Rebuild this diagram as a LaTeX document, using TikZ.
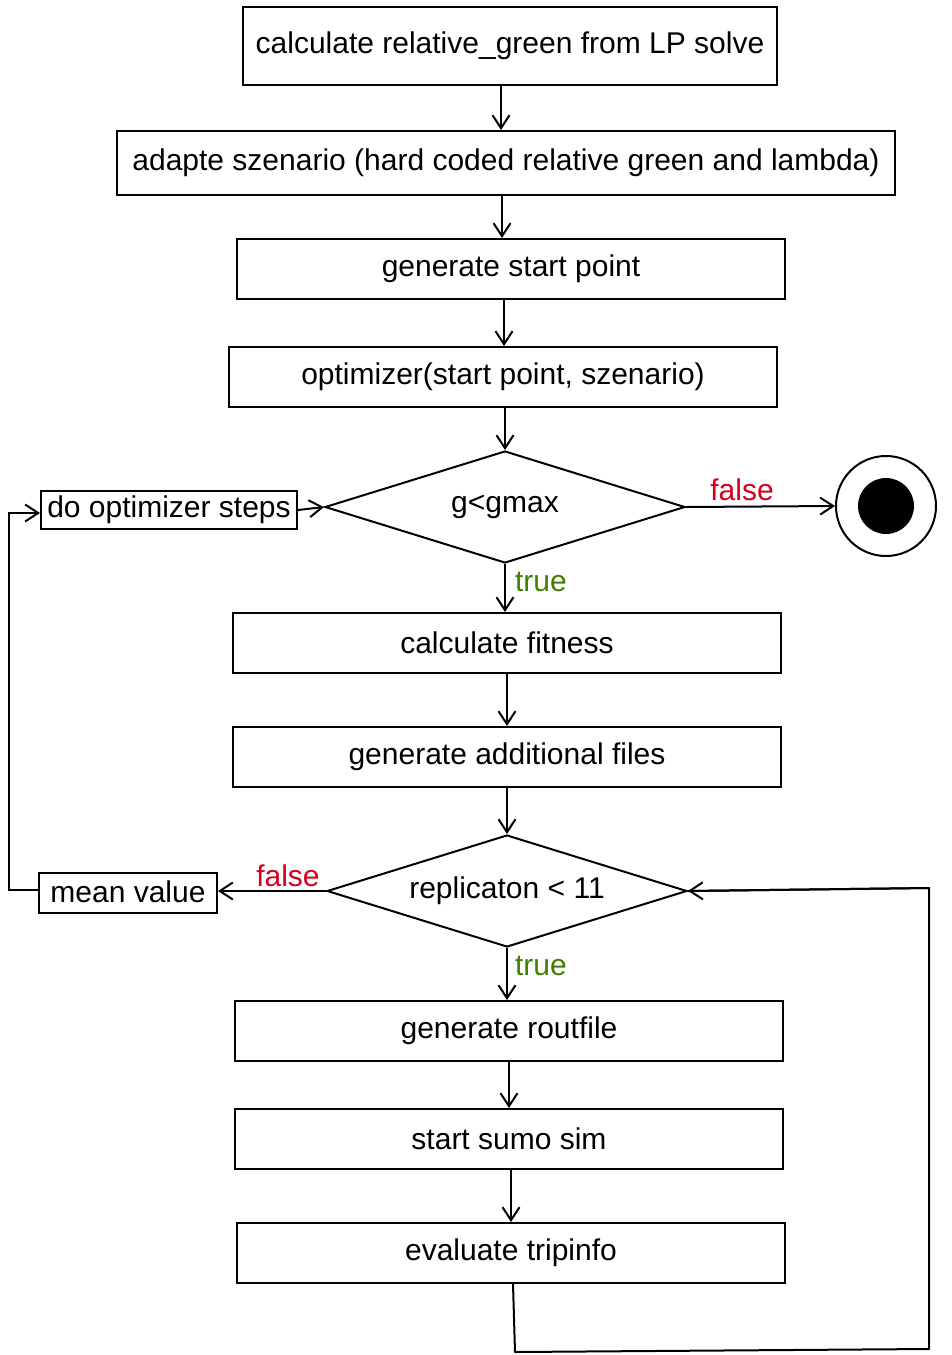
\documentclass[tikz,border=0pt]{standalone}
\usepackage{fontspec}
\setmainfont{Liberation Sans}
\usetikzlibrary{shapes.geometric,arrows.meta}
\definecolor{fred}{RGB}{212,0,28}
\definecolor{tgreen}{RGB}{64,128,0}
\begin{document}
\begin{tikzpicture}[x=1pt,y=1pt,
  every node/.style={font=\fontsize{30}{36}\selectfont},
  box/.style={draw,line width=2pt,rectangle,inner sep=0pt,minimum width=548pt,minimum height=60pt},
  dia/.style={draw,line width=2pt,diamond,aspect=3.2,inner sep=0pt,minimum width=360pt,minimum height=112pt},
  arr/.style={line width=2pt,-{Straight Barb[length=13pt,width=17pt,line width=2pt]}},
  lbl/.style={inner sep=0pt}]
\useasboundingbox (0,0) rectangle (951,-1355);
\node[box,minimum width=534pt,minimum height=78pt] (b1) at (510,-46) {calculate relative\_green from LP solve};
\node[box,minimum width=778pt,minimum height=64pt] (b2) at (506,-163) {adapte szenario (hard coded relative green and lambda)};
\node[box] (b3) at (511,-269) {generate start point};
\node[box] (b4) at (503,-377) {optimizer(start point, szenario)};
\node[dia] (d1) at (505,-507) {g<gmax};
\node[box,minimum width=256pt,minimum height=38pt] (dos) at (169,-510) {do optimizer steps};
\node[draw,line width=2pt,circle,minimum size=100pt,inner sep=0pt] (end) at (886,-506) {};
\fill (end.center) circle (28pt);
\node[box] (b8) at (507,-643) {calculate fitness};
\node[box] (b9) at (507,-757) {generate additional files};
\node[dia] (d2) at (507,-891) {replicaton < 11};
\node[box,minimum width=178pt,minimum height=40pt] (mv) at (128,-893) {\raisebox{3pt}{mean value}};
\node[box] (b12) at (509,-1031) {generate routfile};
\node[box] (b13) at (509,-1139) {start sumo sim};
\node[box] (b14) at (511,-1253) {evaluate tripinfo};
% labels
\node[lbl,text=fred] (lf1) at (742,-490) {false};
\node[lbl,text=tgreen] (lt1) at (541,-582) {true};
\node[lbl,text=fred] (lf2) at (288,-876) {false};
\node[lbl,text=tgreen] (lt2) at (541,-966) {true};
% helper coordinates
\coordinate (m1) at (9,-890);
\coordinate (m2) at (9,-513);
\coordinate (c1) at (515,-1352);
\coordinate (c2) at (929,-1349);
\coordinate (c3) at (929,-888);
% connectors
\draw[arr] (b1.south -| 501,0) -- (b2.north -| 501,0);
\draw[arr] (b2.south -| 502,0) -- (b3.north -| 502,0);
\draw[arr] (b3.south -| 504,0) -- (b4.north -| 504,0);
\draw[arr] (b4.south -| d1.north) -- (d1.north);
\draw[arr] (d1.east) -- (end.west);
\draw[arr] (d1.south) -- (d1.south |- b8.north);
\draw[arr] (b8.south) -- (b9.north);
\draw[arr] (b9.south) -- (d2.north);
\draw[arr] (d2.west) -- (mv.east |- d2.west);
\draw[arr] (mv.west |- m1) -- (m1) -- (m2) -- (dos.west |- m2);
\draw[arr] (dos.east) -- (d1.west);
\draw[arr] (d2.south) -- (d2.south |- b12.north);
\draw[arr] (b12.south) -- (b12.south |- b13.north);
\draw[arr] (b13.south -| 511,0) -- (b14.north);
\draw[line width=2pt,line join=round] (b14.south -| 513,0) -- (c1) -- (c2) -- (c3) -- (d2.east);
\draw[arr] (c3) -- (d2.east);
\end{tikzpicture}
\end{document}
